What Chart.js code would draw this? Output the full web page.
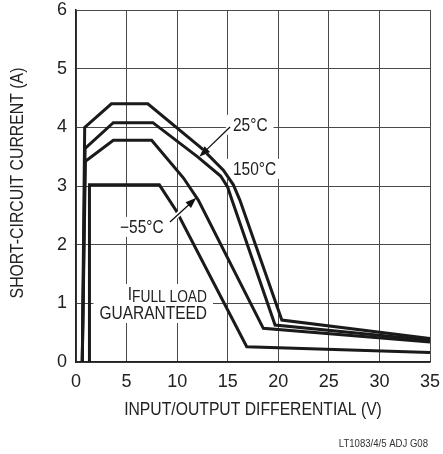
<!DOCTYPE html>
<html><head><meta charset="utf-8">
<script src="https://cdn.jsdelivr.net/npm/chart.js@4"></script>
<style>html,body{margin:0;padding:0;background:#fff;}#wrap{width:443px;height:454px;}</style>
</head><body><div id="wrap"><canvas id="c" width="443" height="454"></canvas></div>
<script>
const FONT = "'Liberation Sans Narrow','Arial Narrow','Liberation Sans',Arial,sans-serif";

// tick labels
const xTicks = [0, 5, 10, 15, 20, 25, 30, 35];
const yTicks = [0, 1, 2, 3, 4, 5, 6];

// curve with peak ~4.4 A (150°C)
const hotX = [0.62, 0.86, 3.5, 7.1, 12.43, 14.57, 15.56, 16.2, 20.35, 35];
const hotY = [0, 4.0, 4.4, 4.4, 3.64, 3.27, 3.02, 2.76, 0.715, 0.40];
// curve with peak ~4.08 A (25°C)
const roomX = [0.62, 0.9, 3.69, 7.6, 12.0, 14.3, 15.0, 15.42, 19.68, 35];
const roomY = [0, 3.64, 4.08, 4.08, 3.50, 3.17, 2.98, 2.76, 0.63, 0.37];
// curve with peak ~3.78 A (-55°C)
const coldX = [0.62, 0.93, 3.69, 7.48, 10.61, 12.09, 18.52, 35];
const coldY = [0, 3.42, 3.78, 3.78, 3.14, 2.76, 0.574, 0.34];
// full load guaranteed curve (3 A)
const fullX = [1.33, 1.33, 8.24, 9.94, 16.88, 35];
const fullY = [0, 3.02, 3.02, 2.57, 0.26, 0.16];

const xTitle = 'INPUT/OUTPUT DIFFERENTIAL (V)';
const yTitle = 'SHORT-CIRCUIT CURRENT (A)';
const footNote = 'LT1083/4/5 ADJ G08';

const zip = (xs, ys) => xs.map((x, i) => ({x, y: ys[i]}));
const lineStyle = {showLine: true, pointRadius: 0, borderColor: '#1a1a1a', borderWidth: 3, fill: false, tension: 0, borderCapStyle: 'butt', borderJoinStyle: 'miter'};

const labels = [
  {parts: [{t: '25°C', s: 18}], x: 15.52, y: 3.94, align: 'left'},
  {parts: [{t: '150°C', s: 18}], x: 15.52, y: 3.19, align: 'left'},
  {parts: [{t: '\u221255°C', s: 18}], x: 4.35, y: 2.20, align: 'left'},
  {parts: [{t: 'I', s: 18, dy: 0}, {t: 'FULL LOAD', s: 16, dy: 2}], x: 12.95, y: 1.057, align: 'right'},
  {parts: [{t: 'GUARANTEED', s: 18}], x: 12.95, y: 0.733, align: 'right'}
];
const arrows = [
  {x1: 15.23, y1: 4.005, x2: 12.2, y2: 3.50},
  {x1: 9.29, y1: 2.386, x2: 11.9, y2: 2.80}
];
const SQ = 0.86; // horizontal condensing to mimic a condensed face

function condText(ctx, text, x, y, size, sx, align, baseline, rot) {
  ctx.save();
  ctx.font = size + 'px ' + FONT;
  ctx.translate(x, y);
  if (rot) ctx.rotate(rot);
  ctx.scale(sx, 1);
  ctx.textAlign = align;
  ctx.textBaseline = baseline;
  ctx.fillText(text, 0, 0);
  ctx.restore();
}

const annot = {
  id: 'annot',
  beforeDatasetsDraw(chart) {
    const ctx = chart.ctx, xs = chart.scales.x, ys = chart.scales.y;
    ctx.save();
    labels.forEach(L => {
      let w = 0;
      L.parts.forEach(p => { ctx.font = p.s + 'px ' + FONT; p.w = ctx.measureText(p.t).width * SQ; w += p.w; });
      const px = xs.getPixelForValue(L.x), py = ys.getPixelForValue(L.y);
      let left = L.align === 'right' ? px - w : px;
      ctx.fillStyle = '#fff';
      ctx.fillRect(left - 6, py - 16, w + 12, 20);
      ctx.fillStyle = '#222';
      L.parts.forEach(p => {
        condText(ctx, p.t, left, py + (p.dy || 0), p.s, SQ, 'left', 'alphabetic', 0);
        left += p.w;
      });
    });
    ctx.restore();
  },
  afterDatasetsDraw(chart) {
    const ctx = chart.ctx, xs = chart.scales.x, ys = chart.scales.y;
    ctx.save();
    arrows.forEach(a => {
      const x1 = xs.getPixelForValue(a.x1), y1 = ys.getPixelForValue(a.y1);
      const x2 = xs.getPixelForValue(a.x2), y2 = ys.getPixelForValue(a.y2);
      const ang = Math.atan2(y2 - y1, x2 - x1);
      const hx = x2 - Math.cos(ang) * 4, hy = y2 - Math.sin(ang) * 4;
      ctx.strokeStyle = '#fff'; ctx.lineWidth = 5;
      ctx.beginPath(); ctx.moveTo(x1, y1); ctx.lineTo(hx, hy); ctx.stroke();
      ctx.strokeStyle = '#111'; ctx.lineWidth = 1.3;
      ctx.beginPath(); ctx.moveTo(x1, y1); ctx.lineTo(x2 - Math.cos(ang) * 8, y2 - Math.sin(ang) * 8); ctx.stroke();
      const hl = 11, hw = 4;
      const bx = x2 - Math.cos(ang) * hl, by = y2 - Math.sin(ang) * hl;
      ctx.fillStyle = '#111';
      ctx.beginPath();
      ctx.moveTo(x2, y2);
      ctx.lineTo(bx + Math.sin(ang) * hw, by - Math.cos(ang) * hw);
      ctx.lineTo(bx - Math.sin(ang) * hw, by + Math.cos(ang) * hw);
      ctx.closePath(); ctx.fill();
    });
    ctx.restore();
  },
  afterDraw(chart) {
    const ctx = chart.ctx, ca = chart.chartArea;
    ctx.save();
    ctx.fillStyle = '#222';
    condText(ctx, xTitle, (ca.left + ca.right) / 2, 410, 18.5, 0.85, 'center', 'middle', 0);
    condText(ctx, yTitle, 18, (ca.top + ca.bottom) / 2 - 3, 18.5, 0.855, 'center', 'middle', -Math.PI / 2);
    ctx.fillStyle = '#333';
    condText(ctx, footNote, 428, 447, 11, 0.87, 'right', 'alphabetic', 0);
    ctx.restore();
  }
};

new Chart(document.getElementById('c'), {
  type: 'scatter',
  data: {
    datasets: [
      Object.assign({label: '150°C', data: zip(hotX, hotY)}, lineStyle),
      Object.assign({label: '25°C', data: zip(roomX, roomY)}, lineStyle),
      Object.assign({label: '-55°C', data: zip(coldX, coldY)}, lineStyle),
      Object.assign({label: 'I FULL LOAD GUARANTEED', data: zip(fullX, fullY)}, lineStyle)
    ]
  },
  options: {
    responsive: false,
    animation: false,
    devicePixelRatio: 1,
    layout: {padding: {top: 10, right: 13, left: 0, bottom: 0}},
    plugins: {legend: {display: false}, tooltip: {enabled: false}},
    scales: {
      x: {
        type: 'linear', min: 0, max: 35,
        afterBuildTicks: s => { s.ticks = xTicks.map(v => ({value: v})); },
        ticks: {font: {family: FONT, size: 18}, color: '#222', padding: 9, maxRotation: 0, autoSkip: false},
        grid: {color: '#4a4a4a', lineWidth: 1, drawTicks: false},
        border: {display: true, color: '#222', width: 1.5},
        title: {display: false, text: xTitle},
        afterFit: s => { s.height = 92; s.paddingLeft = 0; s.paddingRight = 0; }
      },
      y: {
        type: 'linear', min: 0, max: 6,
        afterBuildTicks: s => { s.ticks = yTicks.map(v => ({value: v})); },
        ticks: {font: {family: FONT, size: 18}, color: '#222', padding: 9},
        grid: {color: '#4a4a4a', lineWidth: 1, drawTicks: false},
        border: {display: true, color: '#222', width: 1.5},
        title: {display: false, text: yTitle},
        afterFit: s => { s.width = 76; s.paddingTop = 0; s.paddingBottom = 0; }
      }
    }
  },
  plugins: [annot]
});
</script></body></html>
